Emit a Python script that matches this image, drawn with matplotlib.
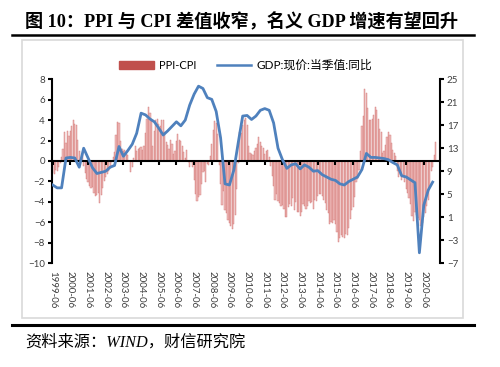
import numpy as np
import matplotlib
matplotlib.use('Agg')
import matplotlib.pyplot as plt
from matplotlib.patches import Patch, Rectangle
from matplotlib.lines import Line2D

plt.rcParams['font.family'] = ['Lato', 'Noto Sans CJK SC', 'DejaVu Sans']

# x-axis labels, one per year (June)
tick_labels = [f'{y}-06' for y in range(1999, 2021)]

# PPI-CPI, monthly, 1999-06 .. 2021-02
ppi_cpi_1999 = [-1.2, -1.3, -0.9, -1.0, -0.6, -0.2, 0.4]
ppi_cpi_2000 = [1.2, 2.8, 1.8, 2.9, 2.4, 2.9, 3.4, 4.0, 3.6, 3.5, 2.1, 1.0]
ppi_cpi_2001 = [0.2, 0.7, -0.5, -1.2, -1.8, -2.1, -2.4, -2.6, -2.5, -3.1, -3.4, -3.3]
ppi_cpi_2002 = [-3.1, -4.1, -3.3, -2.6, -2.0, -1.6, -1.3, -1.0, -0.7, -0.1, 0.4, 0.9]
ppi_cpi_2003 = [2.5, 3.8, 3.7, 2.0, 1.2, 1.0, 1.1, 0.7, 0.6, 0.0, -1.1, -0.6]
ppi_cpi_2004 = [0.3, 1.5, 1.0, 1.2, 1.3, 1.4, 1.1, 1.5, 2.7, 4.1, 5.3, 4.7]
ppi_cpi_2005 = [3.9, 1.5, 2.9, 4.0, 4.1, 3.6, 3.4, 4.0, 4.0, 2.8, 1.9, 1.6]
ppi_cpi_2006 = [1.2, 2.1, 1.7, 0.7, 1.0, 2.0, 2.6, 2.1, 2.0, 1.5, 0.9, 0.3]
ppi_cpi_2007 = [1.1, -0.1, -0.6, -0.1, -0.6, -1.9, -3.2, -3.9, -3.5, -3.3, -2.3, -1.1]
ppi_cpi_2008 = [-1.0, -2.1, -0.3, -0.4, 0.5, 1.7, 3.0, 3.9, 3.7, 2.6, -0.4, -2.3]
ppi_cpi_2009 = [-4.3, -2.9, -4.8, -5.1, -5.8, -6.1, -6.4, -6.7, -6.2, -5.3, -2.7, -0.2]
ppi_cpi_2010 = [2.8, 2.7, 3.5, 4.0, 4.2, 3.5, 1.5, 0.8, 0.7, 0.6, 1.0, 1.3]
ppi_cpi_2011 = [1.7, 2.3, 1.9, 1.5, 1.3, 0.7, 1.0, 1.1, 0.4, -0.5, -1.5, -2.4]
ppi_cpi_2012 = [-3.8, -3.2, -3.9, -4.1, -4.4, -4.3, -4.7, -5.5, -5.5, -4.5, -4.2, -4.4]
ppi_cpi_2013 = [-3.6, -4.8, -4.0, -5.0, -5.0, -5.4, -5.0, -4.2, -4.4, -4.7, -4.4, -3.9]
ppi_cpi_2014 = [-4.1, -4.0, -4.7, -3.8, -3.9, -3.4, -3.2, -3.2, -3.4, -3.8, -4.1, -4.8]
ppi_cpi_2015 = [-5.1, -6.2, -6.0, -6.1, -5.8, -6.2, -7.0, -7.9, -7.5, -7.2, -7.4, -7.5]
ppi_cpi_2016 = [-7.1, -7.2, -6.6, -5.7, -4.8, -4.5, -3.5, -2.1, -1.8, -0.9, 1.0, 3.4]
ppi_cpi_2017 = [4.4, 7.0, 6.7, 5.2, 4.0, 4.0, 4.1, 4.5, 5.3, 5.0, 4.1, 3.1]
ppi_cpi_2018 = [2.8, 0.8, 1.0, 1.6, 2.3, 2.8, 2.5, 1.8, 1.1, 0.8, 0.5, -1.0]
ppi_cpi_2019 = [-1.6, -1.4, -1.9, -1.6, -2.1, -2.7, -3.1, -3.6, -4.2, -5.4, -5.9, -5.0]
ppi_cpi_2020 = [-5.3, -5.6, -5.8, -6.4, -6.1, -5.5, -5.1, -4.4, -3.8, -2.6, -1.0, -0.6]
ppi_cpi_2021 = [0.6, 1.9]

ppi_cpi = (ppi_cpi_1999 + ppi_cpi_2000 + ppi_cpi_2001 + ppi_cpi_2002 + ppi_cpi_2003
           + ppi_cpi_2004 + ppi_cpi_2005 + ppi_cpi_2006 + ppi_cpi_2007 + ppi_cpi_2008
           + ppi_cpi_2009 + ppi_cpi_2010 + ppi_cpi_2011 + ppi_cpi_2012 + ppi_cpi_2013
           + ppi_cpi_2014 + ppi_cpi_2015 + ppi_cpi_2016 + ppi_cpi_2017 + ppi_cpi_2018
           + ppi_cpi_2019 + ppi_cpi_2020 + ppi_cpi_2021)

# nominal GDP yoy, quarterly, 1999Q2 .. 2020Q4
gdp = [6.6, 6.1, 6.1,
       11.3, 11.4, 11.3, 9.7,
       13.0, 11.3, 9.6, 8.6,
       8.8, 9.0, 9.7, 10.0,
       13.3, 11.6, 12.6, 13.7,
       15.6, 19.1, 18.8, 18.1,
       17.6, 16.5, 15.3, 16.0,
       16.8, 17.6, 16.9, 17.9,
       20.5, 22.4, 23.8, 23.4,
       21.8, 21.5, 19.4, 14.8,
       6.8, 6.6, 9.2, 14.0,
       18.6, 18.7, 18.0, 18.6,
       19.6, 19.9, 19.6, 17.4,
       13.0, 11.0, 9.5, 10.1,
       10.3, 9.4, 10.1, 9.7,
       9.0, 9.1, 8.4, 8.0,
       7.6, 7.4, 6.8, 6.6,
       7.2, 7.6, 8.0, 9.3,
       12.1, 11.4, 11.4, 11.3,
       11.2, 11.0, 10.5, 10.1,
       8.2, 8.0, 7.5, 7.0,
       -5.2, 3.1, 5.7, 7.1]

x_bar = np.arange(len(ppi_cpi))
x_gdp = np.arange(len(gdp)) * 3
x_ticks = np.arange(len(tick_labels)) * 12

fig = plt.figure(figsize=(5, 3.67), dpi=100)

ax = fig.add_axes([0.104, 0.283, 0.776, 0.501])
ax.bar(x_bar, ppi_cpi, width=0.8, color='#F0BDBC', edgecolor='#D27876', linewidth=0.3)
ax.set_ylim(-10, 8)
ax.set_yticks(range(-10, 9, 2))
ax.set_xlim(-0.5, 263)
ax.spines['bottom'].set_position(('data', 0))
ax.spines['top'].set_visible(False)
ax.spines['right'].set_visible(False)
for s in ('left', 'bottom'):
    ax.spines[s].set_linewidth(1.5)
ax.set_xticks(x_ticks)
ax.tick_params(axis='x', direction='out', length=3, width=1.5, labelbottom=False)
ax.tick_params(axis='y', direction='out', length=3, width=1.5, labelsize=7,
               labelcolor='#404040', pad=2)

# date labels sit at the bottom of the plot, not on the zero line
sec = ax.secondary_xaxis('bottom')
sec.set_xticks(x_ticks, labels=tick_labels, rotation=-90)
sec.tick_params(length=0, labelsize=7, labelcolor='#404040', pad=6)
sec.spines['bottom'].set_visible(False)

ax2 = ax.twinx()
ax2.plot(x_gdp, gdp, color='#4F81BD', lw=2)
ax2.set_ylim(-7, 25)
ax2.set_yticks(range(-7, 26, 4))
for s in ('left', 'top', 'bottom'):
    ax2.spines[s].set_visible(False)
ax2.spines['right'].set_linewidth(1.5)
ax2.tick_params(axis='y', direction='out', length=3, width=1.5, labelsize=7,
                labelcolor='#404040', pad=2)

handles = [Patch(color='#C0504D', label='PPI-CPI'),
           Line2D([], [], color='#4F81BD', lw=1.8, label='GDP:现价:当季值:同比')]
leg = fig.legend(handles=handles, loc='center', bbox_to_anchor=(0.492, 0.823), ncol=2,
                 frameon=False, fontsize=8, handlelength=3.1, handletextpad=0.5,
                 columnspacing=1.8)
leg.get_texts()[1].set_fontsize(8.5)

# report frame: title, rules, chart border, source
fig.text(0.05, 1 - 22 / 367, '图 10：PPI 与 CPI 差值收窄，名义 GDP 增速有望回升',
         fontsize=13.1, fontweight='bold', family=['Liberation Serif', 'Noto Sans CJK SC'],
         va='center', ha='left')
fig.add_artist(Line2D([12 / 500, 474 / 500], [1 - 34.5 / 367] * 2, color='black', lw=1.8))
fig.add_artist(Rectangle((22 / 500, 1 - 318 / 367), 441 / 500, 278 / 367, fill=False,
                         edgecolor='#D9D9D9', lw=1.2, transform=fig.transFigure))
fig.add_artist(Line2D([12 / 500, 474 / 500], [1 - 325 / 367] * 2, color='black', lw=2.2))
fig.text(0.05, 1 - 343 / 367, '资料来源：WIND，财信研究院', fontsize=11.7, style='italic',
         family=['Liberation Serif', 'Noto Sans CJK SC'], va='center', ha='left')

fig.savefig('out.png', dpi=100)
